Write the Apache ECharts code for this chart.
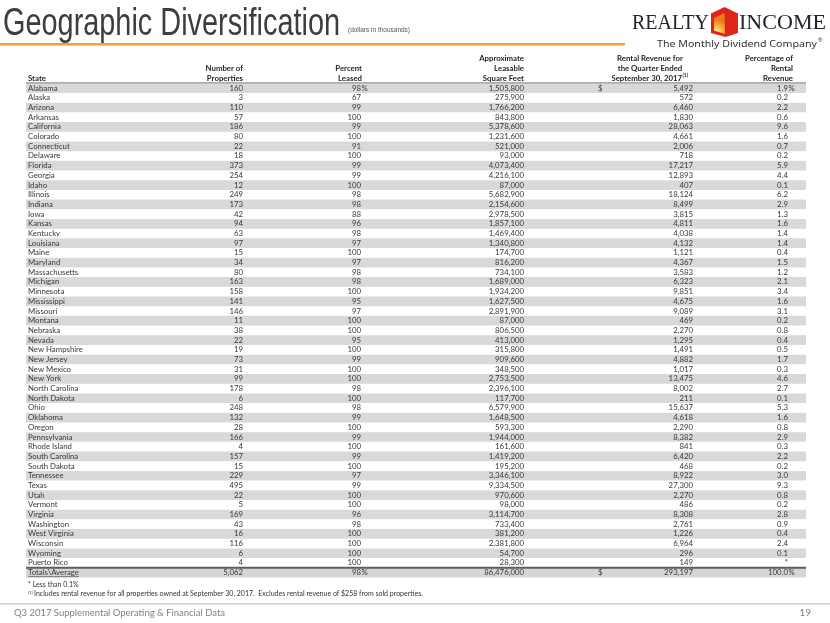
<!DOCTYPE html>
<html>
<head>
<meta charset="utf-8">
<script src="https://cdn.jsdelivr.net/npm/echarts@6/dist/echarts.min.js"></script>
<style>
html,body{margin:0;padding:0;background:#fff;}
#chart{width:830px;height:623px;}
</style>
</head>
<body>
<div id="chart"></div>
<script>
// ---------- DATA ----------
const states = ['Alabama','Alaska','Arizona','Arkansas','California','Colorado','Connecticut','Delaware','Florida','Georgia','Idaho','Illinois','Indiana','Iowa','Kansas','Kentucky','Louisiana','Maine','Maryland','Massachusetts','Michigan','Minnesota','Mississippi','Missouri','Montana','Nebraska','Nevada','New Hampshire','New Jersey','New Mexico','New York','North Carolina','North Dakota','Ohio','Oklahoma','Oregon','Pennsylvania','Rhode Island','South Carolina','South Dakota','Tennessee','Texas','Utah','Vermont','Virginia','Washington','West Virginia','Wisconsin','Wyoming','Puerto Rico'];
const properties = [160,3,110,57,186,80,22,18,373,254,12,249,173,42,94,63,97,15,34,80,163,158,141,146,11,38,22,19,73,31,99,178,6,248,132,28,166,4,157,15,229,495,22,5,169,43,16,116,6,4];
const percentLeased = [98,67,99,100,99,100,91,100,99,99,100,98,98,88,96,98,97,100,97,98,98,100,95,97,100,100,95,100,99,100,100,98,100,98,99,100,99,100,99,100,97,99,100,100,96,98,100,100,100,100];
const squareFeet = [1505800,275900,1766200,843800,5378600,1231600,521000,93000,4073400,4216100,87000,5682900,2154600,2978500,1857100,1469400,1340800,174700,816200,734100,1689000,1934200,1627500,2891900,87000,806500,413000,315800,909600,348500,2753500,2396100,117700,6579900,1648500,593300,1944000,161600,1419200,195200,3346100,9334500,970600,98000,3114700,733400,381200,2381800,54700,28300];
const rentalRevenue = [5492,572,6460,1830,28063,4661,2006,718,17217,12893,407,18124,8499,3815,4811,4038,4132,1121,4367,3583,6323,9851,4675,9089,469,2270,1295,1491,4882,1017,13475,8002,211,15637,4618,2290,8382,841,6420,468,8922,27300,2270,486,8308,2761,1226,6964,296,149];
const pctRevenue = [1.9,0.2,2.2,0.6,9.6,1.6,0.7,0.2,5.9,4.4,0.1,6.2,2.9,1.3,1.6,1.4,1.4,0.4,1.5,1.2,2.1,3.4,1.6,3.1,0.2,0.8,0.4,0.5,1.7,0.3,4.6,2.7,0.1,5.3,1.6,0.8,2.9,0.3,2.2,0.2,3.0,9.3,0.8,0.2,2.8,0.9,0.4,2.4,0.1,null];
const totalLabel = 'Totals\\Average';
const totalProperties = 5062;
const totalLeased = 98;
const totalSquareFeet = 86476000;
const totalRevenue = 293197;
const totalPct = 100.0;

// ---------- LAYOUT / STYLE ----------
const FONT = 'Lato, "Open Sans", sans-serif';
const DATA_FS = 7.8;
const TXT = '#383838';
const HDR = '#262626';
const col = { state: 28, props: 243, leased: 361, sqft: 524, dollar: 598, rev: 693, pct: 788 };

const names = states.concat([totalLabel]);
const fmt = v => v.toLocaleString('en-US');

function measure(text, font) {
  const c = document.createElement('canvas').getContext('2d');
  c.font = font;
  return c.measureText(text).width;
}
function fitText(text, x, y, fontSize, family, weight, targetW, color, align) {
  const font = (weight || 'normal') + ' ' + fontSize + 'px ' + family;
  const w = measure(text, font);
  const s = targetW / w;
  return {
    type: 'text', x: x, y: y, scaleX: s, scaleY: 1, silent: true,
    style: { text: text, font: font, fill: color, align: align || 'left', verticalAlign: 'middle' }
  };
}

function cellText(x, y, text, align, bold, extra) {
  return Object.assign({
    type: 'text',
    style: {
      x: x, y: y, text: text, align: align, verticalAlign: 'middle',
      font: (bold ? 'bold ' : '') + DATA_FS + 'px ' + FONT, fill: TXT
    }
  }, extra || {});
}

function renderRow(params, api) {
  const i = api.value(1);
  const cy = api.coord([0, i])[1];
  const h = api.size([0, 1])[1];
  const X = v => api.coord([v, i])[0];
  const isTotal = i === states.length;
  const ch = [];
  if (i % 2 === 0) {
    ch.push({ type: 'rect', shape: { x: X(26), y: cy - h / 2, width: X(806) - X(26), height: h }, style: { fill: isTotal ? '#d6d6d6' : '#d9d9d9' } });
  }
  if (isTotal) {
    ch.push({ type: 'rect', shape: { x: X(26), y: cy - h / 2 - 1, width: X(806) - X(26), height: 2 }, style: { fill: '#5e5e5e' } });
    const lw = measure(totalLabel, DATA_FS + 'px ' + FONT);
    ch.push({ type: 'line', shape: { x1: X(col.state), y1: cy + 4, x2: X(col.state) + lw, y2: cy + 4 }, style: { stroke: TXT, lineWidth: 0.6 } });
    ch.push(cellText(X(col.state), cy, totalLabel, 'left'));
    ch.push(cellText(X(col.props), cy, fmt(totalProperties), 'right'));
    ch.push(cellText(X(col.leased), cy, String(totalLeased), 'right'));
    ch.push(cellText(X(col.leased) + 0.5, cy, '%', 'left'));
    ch.push(cellText(X(col.sqft), cy, fmt(totalSquareFeet), 'right'));
    ch.push(cellText(X(col.dollar), cy, '$', 'left'));
    ch.push(cellText(X(col.rev), cy, fmt(totalRevenue), 'right'));
    ch.push(cellText(X(col.pct), cy, totalPct.toFixed(1), 'right'));
    ch.push(cellText(X(col.pct) + 0.5, cy, '%', 'left'));
  } else {
    ch.push(cellText(X(col.state), cy, states[i], 'left'));
    ch.push(cellText(X(col.props), cy, fmt(properties[i]), 'right'));
    ch.push(cellText(X(col.leased), cy, String(percentLeased[i]), 'right'));
    ch.push(cellText(X(col.sqft), cy, fmt(squareFeet[i]), 'right'));
    ch.push(cellText(X(col.rev), cy, fmt(rentalRevenue[i]), 'right'));
    ch.push(cellText(X(col.pct), cy, pctRevenue[i] === null ? '*' : pctRevenue[i].toFixed(1), 'right'));
    if (i === 0) {
      ch.push(cellText(X(col.leased) + 0.5, cy, '%', 'left'));
      ch.push(cellText(X(col.dollar), cy, '$', 'left'));
      ch.push(cellText(X(col.pct) + 0.5, cy, '%', 'left'));
    }
  }
  return { type: 'group', children: ch };
}

// header text helper
function hdr(x, y, text, align) {
  return { type: 'text', x: x, y: y, silent: true, style: { text: text, align: align, verticalAlign: 'middle', font: 'bold ' + DATA_FS + 'px ' + FONT, fill: HDR } };
}
function plain(x, y, text, size, color, align, weight) {
  return { type: 'text', x: x, y: y, silent: true, style: { text: text, align: align || 'left', verticalAlign: 'middle', font: (weight || 'normal') + ' ' + size + 'px ' + FONT, fill: color } };
}

const graphics = [
  // title
  fitText('Geographic Diversification', 3, 25, 38, '"Liberation Sans", Arial, sans-serif', 'normal', 337, '#3d3d3d'),
  fitText('(dollars in thousands)', 348, 30, 7.5, '"Liberation Sans", Arial, sans-serif', 'normal', 62, '#555555'),
  { type: 'rect', shape: { x: 0, y: 43, width: 625, height: 2.6 }, style: { fill: '#f5a033' }, silent: true },
  // logo
  fitText('REALTY', 632, 23, 21, '"Liberation Serif", "DejaVu Serif", serif', 'normal', 77, '#23232e'),
  fitText('INCOME', 739, 23, 21, '"Liberation Serif", "DejaVu Serif", serif', 'normal', 87, '#23232e'),
  { type: 'polygon', silent: true, shape: { points: [[724.5, 7], [738, 13.5], [738, 33], [725.5, 37], [711, 33], [711, 13.5]] }, style: { fill: '#e0241b' } },
  { type: 'polygon', silent: true, shape: { points: [[714, 18], [724.5, 13], [725, 34], [714, 30.5]] },
    style: { fill: new echarts.graphic.RadialGradient(0.2, 0.9, 1.1, [{ offset: 0, color: '#fff6d0' }, { offset: 0.4, color: '#f9c34a' }, { offset: 1, color: '#ee7a1c' }]) } },
  fitText('The Monthly Dividend Company', 657, 44, 9.5, '"Noto Sans", "Open Sans", sans-serif', 'normal', 160, '#333333'),
  plain(818, 40, '®', 5.5, '#333333'),
  // headers
  hdr(28, 78.5, 'State', 'left'),
  hdr(243, 68.5, 'Number of', 'right'), hdr(243, 78.5, 'Properties', 'right'),
  hdr(362, 68.5, 'Percent', 'right'), hdr(362, 78.5, 'Leased', 'right'),
  hdr(524, 58.5, 'Approximate', 'right'), hdr(524, 68.5, 'Leasable', 'right'), hdr(524, 78.5, 'Square Feet', 'right'),
  hdr(650, 58.5, 'Rental Revenue for', 'center'), hdr(650, 68.5, 'the Quarter Ended', 'center'),
  hdr(682, 78.5, 'September 30, 2017', 'right'),
  { type: 'text', x: 682.5, y: 75.5, silent: true, style: { text: '(1)', align: 'left', verticalAlign: 'middle', font: 'bold 5px ' + FONT, fill: HDR } },
  hdr(793, 58.5, 'Percentage of', 'right'), hdr(793, 68.5, 'Rental', 'right'), hdr(793, 78.5, 'Revenue', 'right'),
  { type: 'rect', silent: true, shape: { x: 26, y: 82.6, width: 780, height: 1.4 }, style: { fill: '#5e5e5e' } },
  // footnotes
  plain(28, 585, '* Less than 0.1%', 7, '#333333'),
  plain(28, 592.5, '(1)', 4.5, '#333333'),
  plain(34, 594, 'Includes rental revenue for all properties owned at September 30, 2017.  Excludes rental revenue of $258 from sold properties.', 7, '#333333'),
  // footer
  { type: 'rect', silent: true, shape: { x: 0, y: 603, width: 830, height: 1.6 }, style: { fill: '#cfcfcf' } },
  fitText('Q3 2017 Supplemental Operating & Financial Data', 14, 612.5, 10, FONT, 'normal', 211, '#808080'),
  plain(811, 612.5, '19', 10, '#808080', 'right')
];

const chart = echarts.init(document.getElementById('chart'), null, { renderer: 'canvas' });
chart.setOption({
  animation: false,
  backgroundColor: '#ffffff',
  grid: { left: 0, right: 0, top: 83.3, height: 494.2, containLabel: false },
  xAxis: { type: 'value', min: 0, max: 830, show: false },
  yAxis: { type: 'category', data: names, inverse: true, show: false },
  series: [{
    type: 'custom',
    silent: true,
    renderItem: renderRow,
    encode: { x: 0, y: 1 },
    data: names.map((n, i) => [0, i]),
    clip: false
  }],
  graphic: graphics
});
</script>
</body>
</html>
